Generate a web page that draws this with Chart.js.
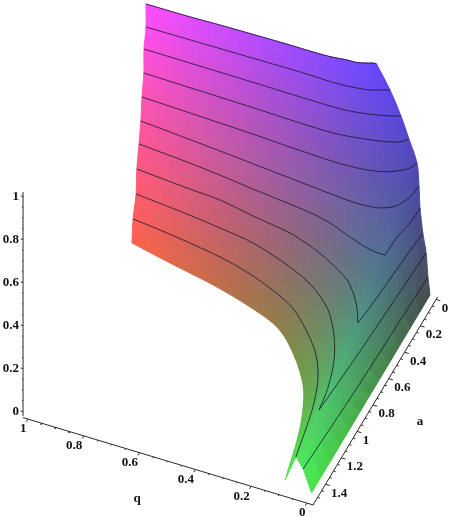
<!DOCTYPE html>
<html>
<head>
<meta charset="utf-8">
<title>Surface plot</title>
<style>
html, body { margin: 0; padding: 0; background: #fff; }
canvas { display: block; }
</style>
<script src="https://cdn.jsdelivr.net/npm/chart.js@4/dist/chart.umd.min.js"></script>
</head>
<body>
<canvas id="myChart" width="450" height="517"></canvas>
<script>
// tick labels
const qTicks = [1, 0.8, 0.6, 0.4, 0.2, 0];
const aTicks = [0, 0.2, 0.4, 0.6, 0.8, 1, 1.2, 1.4];
const zTicks = [0, 0.2, 0.4, 0.6, 0.8, 1];

// contour heights, one row of the surface each
const zLevels = [0, 0.1, 0.2, 0.3, 0.4, 0.5, 0.6, 0.7, 0.8, 0.9, 1];

// q and a read along each contour, left edge to right edge
const qL0 = [1.000, 0.848, 0.677, 0.538, 0.407, 0.311, 0.222, 0.177, 0.143, 0.104, null, 0, 0, 0];
const aL0 = [0.242, 0.297, 0.355, 0.418, 0.501, 0.637, 0.823, 0.984, 1.167, 1.468, null, 1.499, 0.758, 0];
const qL1 = [1.001, 0.872, 0.668, 0.533, 0.368, 0.274, 0.198, 0.147, 0.110, 0.074, 0.069, 0.030, 0.014, 0];
const aL1 = [0.224, 0.248, 0.300, 0.358, 0.473, 0.602, 0.743, 0.900, 1.104, 1.437, 1.441, 1.500, 0.876, 0.026];
const qL2 = [0.998, 0.807, 0.681, 0.554, 0.398, 0.292, 0.204, 0.141, 0.095, 0.063, 0.050, 0.036, 0.022, 0.010];
const aL2 = [0.196, 0.226, 0.252, 0.284, 0.367, 0.451, 0.569, 0.718, 0.879, 1.070, 1.229, 0.886, 0.430, 0.014];
const qL3 = [1.002, 0.815, 0.693, 0.564, 0.421, 0.324, 0.246, 0.162, 0.114, 0.081, 0.051, 0.043, 0.031, 0.017];
const aL3 = [0.172, 0.197, 0.210, 0.249, 0.287, 0.338, 0.396, 0.478, 0.561, 0.639, 0.733, 0.607, 0.334, 0.030];
const qL4 = [1.002, 0.823, 0.700, 0.574, 0.434, 0.346, 0.278, 0.205, 0.120, 0.078, 0.053, 0.049, 0.035, 0.032];
const aL4 = [0.145, 0.168, 0.188, 0.214, 0.239, 0.258, 0.283, 0.327, 0.372, 0.383, 0.382, 0.244, 0.129, 0.013];
const qL5 = [0.999, 0.827, 0.678, 0.573, 0.443, 0.356, 0.293, 0.229, 0.165, 0.115, 0.080, 0.061, 0.043, 0.036];
const aL5 = [0.132, 0.155, 0.175, 0.191, 0.210, 0.223, 0.232, 0.241, 0.241, 0.228, 0.199, 0.164, 0.100, 0.012];
const qL6 = [1.000, 0.836, 0.716, 0.588, 0.460, 0.376, 0.314, 0.253, 0.191, 0.142, 0.105, 0.083, 0.057, 0.045];
const aL6 = [0.114, 0.123, 0.130, 0.138, 0.149, 0.154, 0.158, 0.157, 0.148, 0.132, 0.109, 0.087, 0.052, 0.006];
const qL7 = [0.999, 0.843, 0.724, 0.597, 0.470, 0.387, 0.326, 0.268, 0.207, 0.158, 0.126, 0.105, 0.088, 0.074];
const aL7 = [0.094, 0.099, 0.102, 0.106, 0.112, 0.114, 0.114, 0.106, 0.090, 0.074, 0.061, 0.048, 0.030, 0.005];
const qL8 = [1.003, 0.849, 0.730, 0.604, 0.479, 0.396, 0.335, 0.275, 0.215, 0.166, 0.144, 0.128, 0.113, 0.101];
const aL8 = [0.078, 0.079, 0.080, 0.081, 0.083, 0.084, 0.084, 0.080, 0.065, 0.047, 0.036, 0.029, 0.019, 0.011];
const qL9 = [0.998, 0.852, 0.734, 0.609, 0.484, 0.402, 0.340, 0.280, 0.236, 0.203, 0.182, 0.170, 0.155, 0.142];
const aL9 = [0.071, 0.068, 0.066, 0.064, 0.062, 0.062, 0.065, 0.061, 0.052, 0.042, 0.029, 0.021, 0.011, 0.004];
const qL10 = [1.001, 0.854, 0.738, 0.613, 0.489, 0.406, 0.346, 0.289, 0.254, 0.222, 0.210, 0.204, 0.198, 0.192];
const aL10 = [0.061, 0.059, 0.053, 0.049, 0.046, 0.046, 0.043, 0.032, 0.029, 0.013, 0.005, 0.001, 0, 0];

const qRows = [qL0, qL1, qL2, qL3, qL4, qL5, qL6, qL7, qL8, qL9, qL10];
const aRows = [aL0, aL1, aL2, aL3, aL4, aL5, aL6, aL7, aL8, aL9, aL10];

// view of the 3d box on the flat plot
function project(q, a, z) {
	return {
		x: 430 - 279 * q - 79 * a,
		y: 295 - 84 * q + 132 * a - 215 * z,
	};
}

function contourPoints(k, from, to) {
	const points = [];
	for (let i = from; i <= to; i++) {
		points.push(project(qRows[k][i], aRows[k][i], zLevels[k]));
	}
	return points;
}

function cellColor(q, a, z) {
	const c = (v, low, span) => Math.round(low + span * Math.max(0, Math.min(1, v)));
	return 'rgb(' + c(q, 70, 185) + ',' + c(a / 1.5, 70, 165) + ',' + c(z, 72, 183) + ')';
}

// rows fold at these stations, so the curve must not be smoothed through them
function isBreak(k, i) {
	return (k <= 4 && i === 10) || (k <= 1 && (i === 9 || i === 11));
}

function chord(k, i) {
	return Math.hypot(qRows[k][i + 1] - qRows[k][i], aRows[k][i + 1] - aRows[k][i]) || 1e-6;
}

function slope(row, k, i, seg) {
	const last = row.length - 1;
	if (i === 0 || i === last || isBreak(k, i)) {
		return (row[seg + 1] - row[seg]) / chord(k, seg);
	}
	return (row[i + 1] - row[i - 1]) / (chord(k, i - 1) + chord(k, i));
}

function rowValue(row, k, i, s) {
	const h = chord(k, i);
	const m0 = slope(row, k, i, i);
	const m1 = slope(row, k, i + 1, i);
	const s2 = s * s;
	const s3 = s2 * s;
	return (2 * s3 - 3 * s2 + 1) * row[i] + (s3 - 2 * s2 + s) * h * m0
		+ (-2 * s3 + 3 * s2) * row[i + 1] + (s3 - s2) * h * m1;
}

function rowPoint(k, i, s) {
	if (k < 0 || k >= qRows.length) return null;
	if (qRows[k][i] === null || qRows[k][i + 1] === null) return null;
	return { q: rowValue(qRows[k], k, i, s), a: rowValue(aRows[k], k, i, s) };
}

function across(p0, p1, p2, p3, t) {
	const t2 = t * t;
	const t3 = t2 * t;
	return 0.5 * (2 * p1 + (p2 - p0) * t + (2 * p0 - 5 * p1 + 4 * p2 - p3) * t2 + (3 * p1 - p0 - 3 * p2 + p3) * t3);
}

const surfacePlugin = {
	id: 'surface',
	beforeDatasetsDraw(chart) {
		const { ctx, scales: { x, y } } = chart;
		const n = 6;
		const vertex = (k, i, s, t) => {
			const p1 = rowPoint(k, i, s);
			const p2 = rowPoint(k + 1, i, s);
			const p0 = rowPoint(k - 1, i, s) || { q: 2 * p1.q - p2.q, a: 2 * p1.a - p2.a };
			// lowest band stays straight so the two tips keep their points
			const next = k === 0 ? null : rowPoint(k + 2, i, s);
			const p3 = next || { q: 2 * p2.q - p1.q, a: 2 * p2.a - p1.a };
			const q = across(p0.q, p1.q, p2.q, p3.q, t);
			const a = across(p0.a, p1.a, p2.a, p3.a, t);
			const z = zLevels[k] + (zLevels[k + 1] - zLevels[k]) * t;
			const p = project(q, a, z);
			return { px: x.getPixelForValue(p.x), py: y.getPixelForValue(p.y), q, a, z };
		};
		ctx.save();
		ctx.lineWidth = 0.9;
		ctx.lineJoin = 'round';
		for (let k = 0; k < zLevels.length - 1; k++) {
			for (let i = 0; i < qRows[k].length - 1; i++) {
				if (qRows[k][i] === null || qRows[k][i + 1] === null) continue;
				for (let s = 0; s < n; s++) {
					for (let t = 0; t < n; t++) {
						const v = [
							vertex(k, i, s / n, t / n),
							vertex(k, i, (s + 1) / n, t / n),
							vertex(k, i, (s + 1) / n, (t + 1) / n),
							vertex(k, i, s / n, (t + 1) / n),
						];
						const mid = vertex(k, i, (s + 0.5) / n, (t + 0.5) / n);
						const color = cellColor(mid.q, mid.a, mid.z);
						ctx.fillStyle = color;
						ctx.strokeStyle = color;
						ctx.beginPath();
						ctx.moveTo(v[0].px, v[0].py);
						ctx.lineTo(v[1].px, v[1].py);
						ctx.lineTo(v[2].px, v[2].py);
						ctx.lineTo(v[3].px, v[3].py);
						ctx.closePath();
						ctx.fill();
						ctx.stroke();
					}
				}
			}
		}
		ctx.restore();
	},
	afterDatasetsDraw(chart) {
		const { ctx, scales: { x, y } } = chart;
		const put = (text, p, dx, dy, align) => {
			ctx.textAlign = align;
			ctx.fillText(text, x.getPixelForValue(p.x) + dx, y.getPixelForValue(p.y) + dy);
		};
		ctx.save();
		ctx.fillStyle = '#111';
		ctx.font = "bold 13px 'Liberation Serif'";
		ctx.textBaseline = 'middle';
		qTicks.forEach((v) => put(String(v), project(v, 1.557, -0.012), -1.5, 10, 'right'));
		aTicks.forEach((v) => put(String(v), project(-0.022, v, -0.012), 5.5, 9, 'left'));
		zTicks.forEach((v) => put(String(v), project(1.024, 1.535, v), -4, 0, 'right'));
		put('q', project(0.62, 1.557, -0.012), 3, 48, 'center');
		put('a', project(-0.022, 0.85, -0.012), 51, 10, 'center');
		ctx.restore();
	},
};

function tickSegments(from, to, step, major, end) {
	const points = [];
	const count = Math.round((to - from) / step);
	for (let i = 0; i <= count; i++) {
		const v = from + i * step;
		const isMajor = Math.abs(v / major - Math.round(v / major)) < 1e-6;
		end(v, isMajor).forEach((p) => points.push(p));
		points.push({ x: NaN, y: NaN });
	}
	return points;
}

const lineStyle = {
	showLine: true,
	pointRadius: 0,
	borderWidth: 1,
	tension: 0.3,
	borderColor: 'rgba(25, 20, 45, 0.8)',
};
const axisStyle = {
	showLine: true,
	pointRadius: 0,
	borderWidth: 1,
	tension: 0,
	borderColor: '#2a2a2a',
};

const datasets = [];
// rows 1 to 4 have a sharp fold, the others run through
datasets.push({ ...lineStyle, data: contourPoints(1, 0, 9) });
datasets.push({ ...lineStyle, data: contourPoints(1, 11, 13) });
for (let k = 2; k <= 4; k++) {
	datasets.push({ ...lineStyle, data: contourPoints(k, 0, 10) });
	datasets.push({ ...lineStyle, data: contourPoints(k, 10, 13) });
}
for (let k = 5; k <= 10; k++) {
	datasets.push({ ...lineStyle, data: contourPoints(k, 0, 13) });
}

// box edges and their ticks
datasets.push({ ...axisStyle, data: [project(1.018, 1.557, -0.012), project(-0.022, 1.557, -0.012), project(-0.022, -0.02, -0.012)] });
datasets.push({ ...axisStyle, data: [project(1.024, 1.535, -0.02), project(1.024, 1.535, 1.021)] });
datasets.push({
	...axisStyle,
	data: tickSegments(0, 1, 0.05, 0.2, (v, major) => [project(v, 1.557, -0.012), project(v, major ? 1.577 : 1.567, -0.012)]),
});
datasets.push({
	...axisStyle,
	data: tickSegments(0, 1.5, 0.05, 0.2, (v, major) => [project(-0.022, v, -0.012), project(major ? -0.037 : -0.03, v, -0.012)]),
});
datasets.push({
	...axisStyle,
	data: tickSegments(0, 1, 0.05, 0.2, (v, major) => [project(1.024, 1.535, v), project(major ? 1.032 : 1.028, 1.535, v)]),
});

new Chart(document.getElementById('myChart'), {
	type: 'scatter',
	data: { datasets },
	options: {
		responsive: false,
		animation: false,
		events: [],
		layout: { padding: 0 },
		plugins: { legend: { display: false }, tooltip: { enabled: false } },
		scales: {
			x: { type: 'linear', min: 0, max: 450, display: false },
			y: { type: 'linear', min: 0, max: 517, reverse: true, display: false },
		},
	},
	plugins: [surfacePlugin],
});
</script>
</body>
</html>
